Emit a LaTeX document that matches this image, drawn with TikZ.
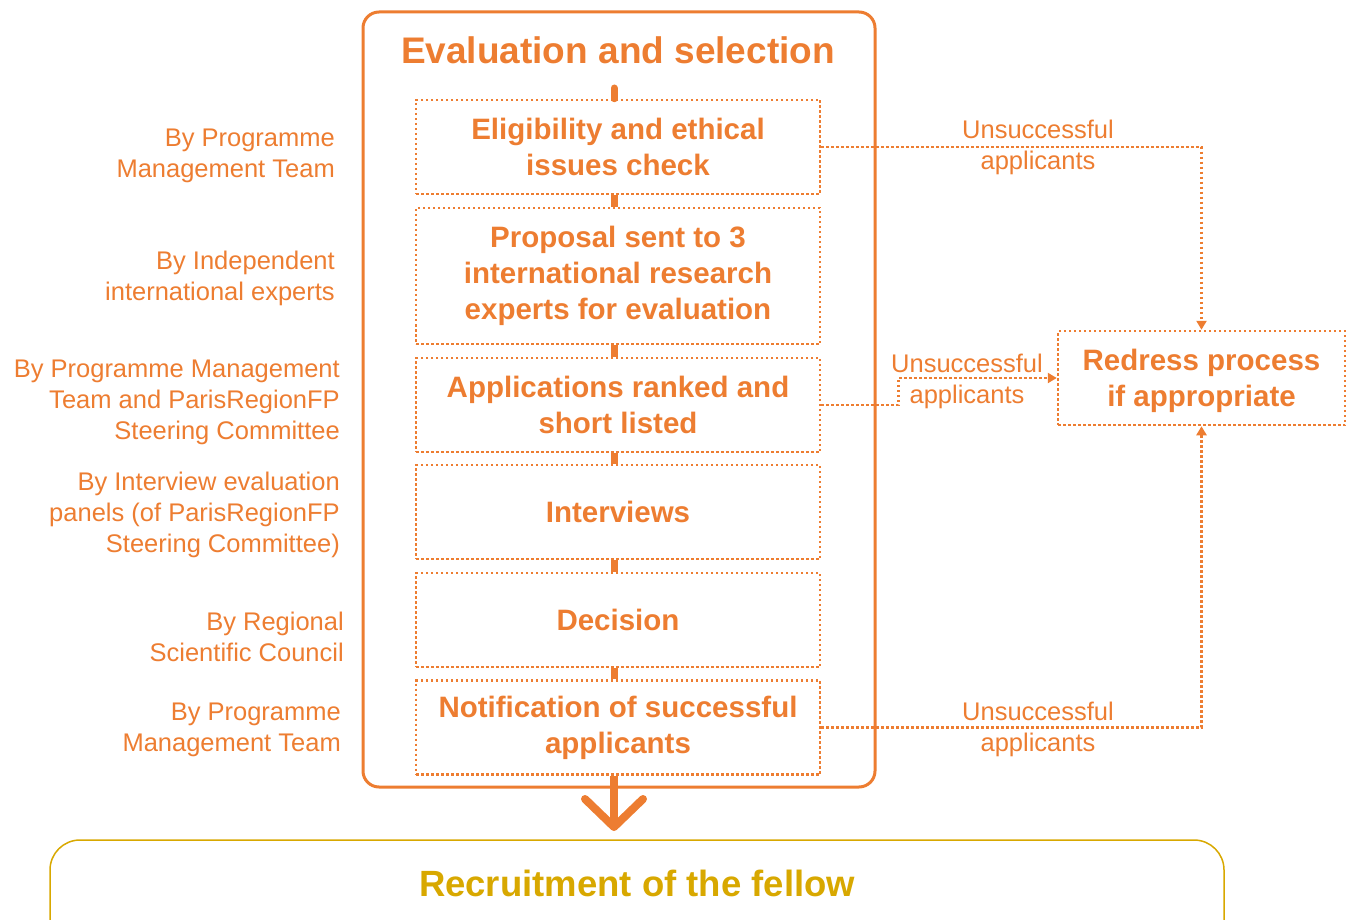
\documentclass[tikz,border=0pt]{standalone}
\usepackage{fontspec}
\setmainfont{Liberation Sans}
\usetikzlibrary{arrows.meta}
\definecolor{org}{RGB}{237,125,49}
\definecolor{gold}{RGB}{216,168,0}
\begin{document}
\begin{tikzpicture}[x=1pt,y=-1pt,
  stepbox/.style={draw=org, line width=2.5pt, dash pattern=on 2.5pt off 2.5pt, minimum width=404pt, text=org, align=center, font=\fontsize{29.5}{36}\selectfont\bfseries, inner sep=0pt},
  sidelbl/.style={text=org, align=right, anchor=east, font=\fontsize{25.5}{31}\selectfont, inner sep=0pt},
  unsl/.style={text=org, align=center, font=\fontsize{25.5}{31}\selectfont, inner sep=0pt},
  stub/.style={draw=org, line width=7pt},
  dotarrow/.style={draw=org, line width=2.5pt, dash pattern=on 2.5pt off 2.5pt, -{Triangle[length=9pt,width=10pt]}},
]
\useasboundingbox (0,0) rectangle (1352,920);

% outer frame
\node[draw=org, line width=3pt, rounded corners=16pt, minimum width=512pt, minimum height=775pt, inner sep=0pt] (outer) at (619,399.5) {};
\node[text=org, font=\fontsize{37}{40}\selectfont\bfseries, inner sep=0pt] (title) at (618,50) {Evaluation and selection};

% steps
\node[stepbox, minimum height=94pt] (b1) at (618,147) {Eligibility and ethical\\issues check};
\node[stepbox, minimum height=136pt] (b2) at (618,276) {Proposal sent to 3\\international research\\experts for evaluation};
\node[stepbox, minimum height=94pt] (b3) at (618,405) {Applications ranked and\\short listed};
\node[stepbox, minimum height=94pt] (b4) at (618,512) {Interviews};
\node[stepbox, minimum height=94pt] (b5) at (618,620) {Decision};
\node[stepbox, minimum height=94pt] (b6) at (618,727.5) {Notification of successful\\applicants};

% redress
\node[stepbox, minimum width=287pt, minimum height=94pt] (rd) at (1201.5,378) {};
\node[text=org, align=center, font=\fontsize{29.5}{36}\selectfont\bfseries, inner sep=0pt] (rdt) at (1201.5,381) {Redress process\\if appropriate};

% recruitment
\node[draw=gold, line width=1.5pt, rounded corners=30pt, minimum width=1174pt, minimum height=110pt, inner sep=0pt] (rec) at (637,895) {};
\node[text=gold, font=\fontsize{36.5}{40}\selectfont\bfseries, inner sep=0pt] (rect) at (637,883) {Recruitment of the fellow};

% stubs
\coordinate (t0) at (614,88);
\draw[stub, line cap=round] (t0) -- ([xshift=-4pt]b1.north);
\draw[stub] ([xshift=-4pt]b1.south) -- ([xshift=-4pt]b2.north);
\draw[stub] ([xshift=-4pt]b2.south) -- ([xshift=-4pt]b3.north);
\draw[stub] ([xshift=-4pt]b3.south) -- ([xshift=-4pt]b4.north);
\draw[stub] ([xshift=-4pt]b4.south) -- ([xshift=-4pt]b5.north);
\draw[stub] ([xshift=-4pt]b5.south) -- ([xshift=-4pt]b6.north);

% big arrow
\coordinate (tip) at (614,827);
\draw[org, line width=8pt] ([xshift=-4pt]b6.south) -- (tip);
\draw[org, line width=8pt, line cap=round, line join=round] (585,799) -- (tip) -- (643,799);

% unsuccessful arrows
\draw[dotarrow] (b1.east) -| (rd.north);
\draw[dotarrow] (b3.east) -- ++(77,0) |- (rd.west);
\draw[dotarrow] (b6.east) -| (rd.south);
\node[unsl] (u1) at (1038,147) {Unsuccessful\\applicants};
\node[unsl] (u2) at (967,381) {Unsuccessful\\applicants};
\node[unsl] (u3) at (1038,729) {Unsuccessful\\applicants};

% side labels
\node[sidelbl] (l1) at (335,156) {By Programme\\Management Team};
\node[sidelbl] (l2) at (335,278) {By Independent\\international experts};
\node[sidelbl] (l3) at (340,402) {By Programme Management\\Team and ParisRegionFP\\Steering Committee};
\node[sidelbl] (l4) at (340,515) {By Interview evaluation\\panels (of ParisRegionFP\\Steering Committee)};
\node[sidelbl] (l5) at (344,637) {By Regional\\Scientific Council};
\node[sidelbl] (l6) at (341,730) {By Programme\\Management Team};
\end{tikzpicture}
\end{document}
